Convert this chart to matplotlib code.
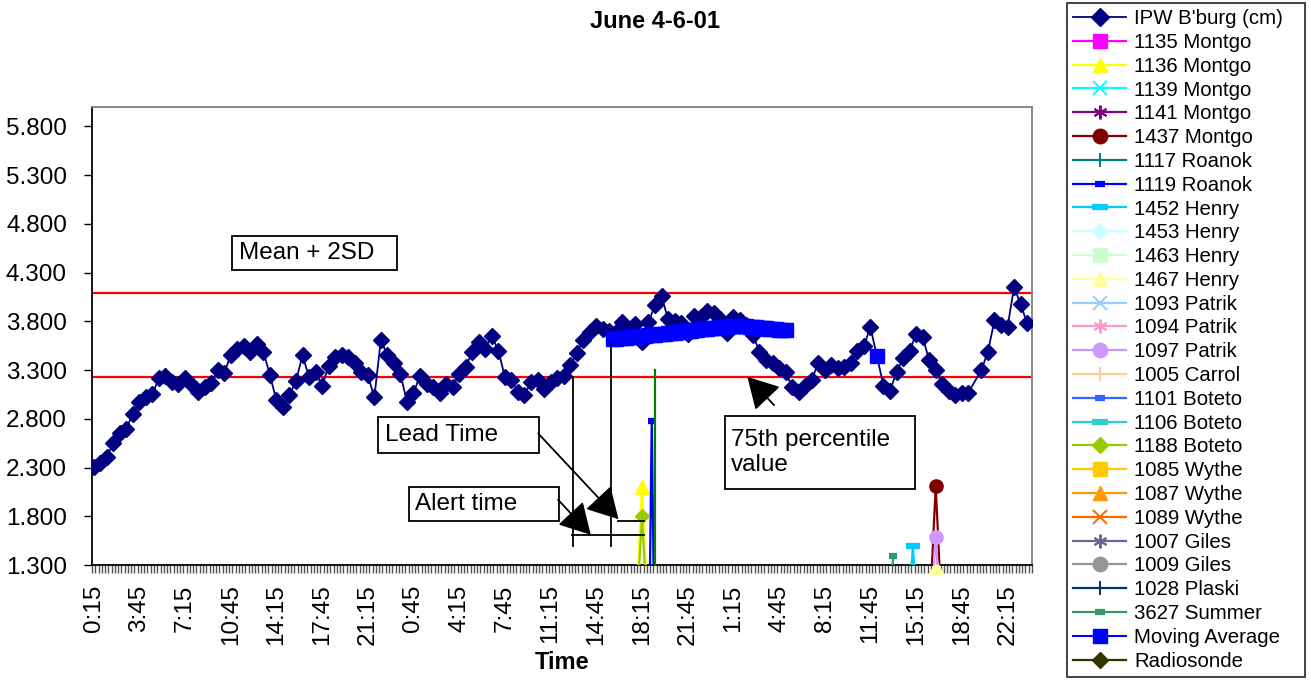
import numpy as np
import matplotlib.pyplot as plt
from matplotlib.patches import Rectangle

plt.rcParams['font.family'] = ['Liberation Sans', 'DejaVu Sans']

# 15-minute slots from 0:15 on June 4 through midnight June 6
n_slots = 288
label_every = 14
tick_labels = ["0:15", "3:45", "7:15", "10:45", "14:15", "17:45", "21:15",
               "0:45", "4:15", "7:45", "11:15", "14:45", "18:15", "21:45",
               "1:15", "4:45", "8:15", "11:45", "15:15", "18:45", "22:15"]

# IPW at Blacksburg (cm), one reading every 30 minutes; None = missing
ipw_bburg = [
    2.31, 2.35, 2.41, 2.55, 2.65, 2.70, 2.85, 2.97, 3.02, 3.05,
    3.22, 3.24, 3.18, 3.16, 3.22, 3.15, 3.08, 3.13, 3.17, 3.30,
    3.27, 3.45, 3.52, 3.55, 3.49, 3.57, 3.49, 3.25, 2.99, 2.92,
    3.04, 3.19, 3.45, 3.23, 3.28, 3.14, 3.34, 3.43, 3.45, 3.43,
    3.37, 3.28, 3.25, 3.02, 3.61, 3.45, 3.37, 3.26, 2.97, 3.07,
    3.24, 3.16, 3.13, 3.07, 3.16, 3.13, 3.26, 3.33, 3.49, 3.59,
    3.52, 3.65, 3.50, 3.23, 3.20, 3.08, 3.04, 3.18, 3.20, 3.11,
    3.18, 3.22, 3.24, 3.35, 3.48, 3.61, 3.69, 3.75, 3.72, 3.70,
    3.69, 3.79, 3.69, 3.77, 3.59, 3.79, 3.97, 4.06, 3.82, 3.80,
    3.78, 3.67, 3.86, 3.85, 3.91, 3.89, 3.82, 3.68, 3.84, 3.81,
    3.76, 3.66, 3.49, 3.40, 3.37, 3.32, 3.28, 3.13, 3.08, 3.14,
    3.20, 3.37, 3.30, 3.35, 3.32, 3.33, 3.37, 3.50, 3.55, 3.74,
    None, 3.14, 3.09, 3.28, 3.42, 3.50, 3.67, 3.64, 3.40, 3.30,
    3.16, 3.09, 3.04, 3.06, 3.07, None, 3.30, 3.49, 3.81, 3.76,
    3.74, 4.15, 3.98, 3.78,
]

# moving average of IPW (cm), per 15-minute slot
ma_slots = list(range(159, 213)) + [240]
moving_avg = [
    3.62, 3.62, 3.63, 3.63, 3.63, 3.64, 3.64, 3.64, 3.65, 3.65,
    3.65, 3.66, 3.66, 3.66, 3.67, 3.67, 3.67, 3.68, 3.68, 3.68,
    3.69, 3.69, 3.70, 3.70, 3.70, 3.71, 3.71, 3.72, 3.72, 3.72,
    3.73, 3.73, 3.73, 3.74, 3.74, 3.74, 3.75, 3.75, 3.75, 3.75,
    3.75, 3.75, 3.74, 3.74, 3.74, 3.73, 3.73, 3.73, 3.72, 3.72,
    3.72, 3.71, 3.71, 3.71,
    3.44,
]

mean_2sd = 4.09
pct75 = 3.23

# rain gauge readings that reach into the plotted range: (slots, values)
gauge_readings = {
    "1136 Montgo": ([165, 168, 171], [0.0, 2.10, 0.0]),
    "1188 Boteto": ([165, 168, 171], [0.0, 1.80, 0.0]),
    "1119 Roanok": ([170, 171, 172], [0.0, 2.78, 0.0]),
    "3627 Summer": ([242, 245], [0.0, 1.39]),
    "1452 Henry": ([248, 251, 254], [0.0, 1.49, 0.0]),
    "1437 Montgo": ([255, 258, 261], [0.0, 2.11, 0.0]),
    "1097 Patrik": ([255, 258, 261], [0.0, 1.59, 0.0]),
    "1467 Henry": ([258], [1.28]),
}

# storm onset marker
onset_slot = 172
onset_top = 3.30

# alert / lead time construction
alert_slot = 147
lead_slot = 158.5
alert_top = pct75
lead_top = 3.57
bracket_bottom = 1.50
alert_bar = (146.6, 168.7, 1.61)
lead_bar = (160.8, 168.7, 1.75)

legend_names = [
    "1135 Montgo", "1136 Montgo", "1139 Montgo", "1141 Montgo", "1437 Montgo",
    "1117 Roanok", "1119 Roanok", "1452 Henry", "1453 Henry", "1463 Henry",
    "1467 Henry", "1093 Patrik", "1094 Patrik", "1097 Patrik", "1005 Carrol",
    "1101 Boteto", "1106 Boteto", "1188 Boteto", "1085 Wythe", "1087 Wythe",
    "1089 Wythe", "1007 Giles", "1009 Giles", "1028 Plaski", "3627 Summer",
]

# Excel-style series colours and markers
gauge_colors = [
    "#FF00FF", "#FFFF00", "#00FFFF", "#800080", "#800000",
    "#008080", "#0000FF", "#00CCFF", "#CCFFFF", "#CCFFCC",
    "#FFFF99", "#99CCFF", "#FF99CC", "#CC99FF", "#FFCC99",
    "#3366FF", "#33CCCC", "#99CC00", "#FFCC00", "#FF9900",
    "#FF6600", "#666699", "#969696", "#003366", "#339966",
]
ASTER = (6, 2, 0)
gauge_markers = [
    "s", "^", "x", ASTER, "o",
    "+", "short", "long", "D", "s",
    "^", "x", ASTER, "o", "+",
    "short", "long", "D", "s", "^",
    "x", ASTER, "o", "+", "short",
]


def marker_style(m):
    if m == "short":
        return dict(marker="_", markersize=6, markeredgewidth=4.5)
    if m == "long":
        return dict(marker="_", markersize=10, markeredgewidth=4.5)
    if m == "D":
        return dict(marker="D", markersize=7.5)
    if m in ("x", "+") or m == ASTER:
        return dict(marker=m, markersize=9, markeredgewidth=1.4)
    return dict(marker=m, markersize=9.5)


fig = plt.figure(figsize=(13.11, 6.81), dpi=100)
ax = fig.add_axes([92 / 1311, 1 - 565 / 681, 940 / 1311, 458 / 681])

slots = np.arange(n_slots)

# IPW series, drawn through missing readings
ipw_slots = [2 * k for k, v in enumerate(ipw_bburg) if v is not None]
ipw_vals = [v for v in ipw_bburg if v is not None]
ax.plot(ipw_slots, ipw_vals, color="#000080", lw=1.3, marker="D",
        markersize=8, markeredgecolor="#000080", label="IPW B'burg (cm)",
        zorder=4)

for name, color, m in zip(legend_names, gauge_colors, gauge_markers):
    xs, ys = gauge_readings.get(name, ([], []))
    clip = not (len(xs) == 1)
    ax.plot(xs, ys, color=color, lw=1.6, markerfacecolor=color,
            markeredgecolor=color, label=name, clip_on=clip, zorder=5,
            **marker_style(m))

ma_line = np.full(n_slots, np.nan)
ma_line[ma_slots] = moving_avg
ax.plot(slots, ma_line, color="#0000FF", lw=1.5, marker="s", markersize=9.8,
        markeredgecolor="#0000FF", label="Moving Average", zorder=6)
ax.plot([], [], color="#333300", lw=1.6, marker="D", markersize=7.5,
        label="Radiosonde")

# threshold lines
ax.plot(slots, np.full(n_slots, mean_2sd), color="#FF0000", lw=1.6, zorder=3)
ax.plot(slots, np.full(n_slots, pct75), color="#FF0000", lw=1.6, zorder=3)

ax.plot([onset_slot, onset_slot], [1.3, onset_top], color="#008000", lw=1.6,
        zorder=5)

# alert and lead time brackets
ax.plot([alert_slot, alert_slot], [bracket_bottom, alert_top], color="black",
        lw=1.3, zorder=7)
ax.plot([lead_slot, lead_slot], [bracket_bottom, lead_top], color="black",
        lw=1.3, zorder=7)
ax.plot(alert_bar[:2], [alert_bar[2]] * 2, color="black", lw=1.3, zorder=7)
ax.plot(lead_bar[:2], [lead_bar[2]] * 2, color="black", lw=1.3, zorder=7)


def text_box(x0, x1, y0, y1, lines):
    ax.add_patch(Rectangle((x0, y0), x1 - x0, y1 - y0, facecolor="white",
                           edgecolor="black", lw=1.3, zorder=8, clip_on=False))
    ax.text(x0 + 2.0, (y0 + y1) / 2, lines, fontsize=17.5, va="center",
            ha="left", zorder=9, linespacing=1.2)


text_box(42.4, 93.0, 4.33, 4.68, "Mean + 2SD")
text_box(87.2, 136.5, 2.45, 2.82, "Lead Time")
text_box(96.6, 142.6, 1.75, 2.10, "Alert time")
text_box(193.4, 251.8, 2.08, 2.83, "75th percentile\nvalue")

arrow = dict(arrowstyle="-|>,head_length=0.8,head_width=0.45", color="black",
             lw=1.3, shrinkA=0, shrinkB=0, mutation_scale=24)
ax.annotate("", xy=(160.8, 1.77), xytext=(136.2, 2.65), arrowprops=arrow,
            zorder=9)
ax.annotate("", xy=(152.3, 1.61), xytext=(142.3, 1.97), arrowprops=arrow,
            zorder=9)
ax.annotate("", xy=(200.3, 3.23), xytext=(208.5, 2.94), arrowprops=arrow,
            zorder=9)

# axes
ax.set_xlim(-0.5, n_slots - 0.5)
ax.set_ylim(1.3, 6.0)
ax.set_yticks(np.arange(1.3, 5.81, 0.5))
ax.set_yticklabels([f"{v:.3f}" for v in np.arange(1.3, 5.81, 0.5)],
                   fontsize=17.5)
ax.set_xticks(np.arange(0, n_slots, label_every))
ax.set_xticklabels(tick_labels, rotation=90, fontsize=17.5)
ax.set_xticks(np.arange(-0.5, n_slots, 1), minor=True)
ax.tick_params(axis="x", which="major", length=0, pad=14)
ax.tick_params(axis="x", which="minor", length=6, color="#505050", width=1)
ax.tick_params(axis="y", length=6, width=1, pad=12)
for side in ("top", "right"):
    ax.spines[side].set_color("#808080")
    ax.spines[side].set_linewidth(1.3)
for side in ("left", "bottom"):
    ax.spines[side].set_linewidth(1.3)

ax.set_xlabel("Time", fontsize=17, fontweight="bold", labelpad=4)
fig.text(0.5, 1 - 22 / 681, "June 4-6-01", fontsize=17, fontweight="bold",
         ha="center", va="center")

leg_box = (1067 / 1311, 1 - 678 / 681, 238 / 1311, 675 / 681)
leg = ax.legend(loc="upper left", bbox_to_anchor=leg_box, mode="expand",
                bbox_transform=fig.transFigure, fontsize=14.7, frameon=True,
                fancybox=False, borderaxespad=0, labelspacing=0.235,
                handlelength=2.6, handletextpad=0.4, borderpad=0.3,
                markerscale=1.1)
leg.get_frame().set_edgecolor("black")
leg.get_frame().set_linewidth(1.3)

fig.savefig("out.png", dpi=100)
